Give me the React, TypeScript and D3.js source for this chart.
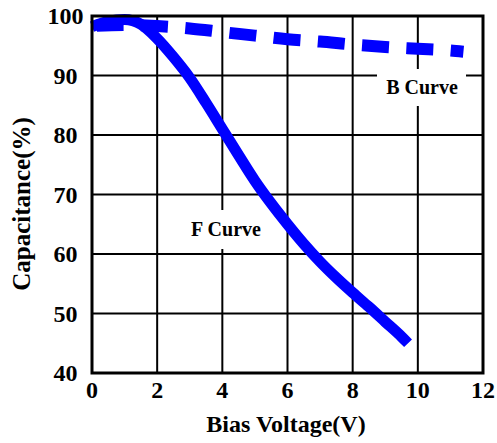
import { useEffect, useRef } from 'react';
import * as d3 from 'd3';

// Bias voltage (V) vs capacitance (%)
const fVoltage = [0, 0.5, 1, 1.5, 2, 2.5, 3, 3.5, 4, 4.5, 5, 5.5, 6, 6.5, 7, 7.5, 8, 8.5, 9, 9.5, 9.7];
const fCapacitance = [98.2, 99.1, 99.4, 98.6, 96.2, 93.1, 89.6, 85.4, 81.0, 76.6, 72.3, 68.5, 65.0, 61.7, 58.7, 56.0, 53.5, 51.1, 48.6, 46.1, 45.0];

const bVoltage = [0, 1, 2, 3, 4, 5, 6, 7, 8, 9, 10, 11, 11.4];
const bCapacitance = [98.3, 98.5, 98.3, 97.9, 97.3, 96.7, 96.1, 95.7, 95.2, 94.8, 94.5, 94.2, 94.0];

const xTicks = [0, 2, 4, 6, 8, 10, 12];
const yTicks = [40, 50, 60, 70, 80, 90, 100];

const W = 497;
const H = 443;
const FONT = 'Liberation Serif, Times New Roman, DejaVu Serif, serif';
const BLUE = '#0000ff';

export default function App() {
  const ref = useRef<SVGSVGElement>(null);

  useEffect(() => {
    if (!ref.current) return;
    const svg = d3.select(ref.current);
    svg.selectAll('*').remove();

    const margin = { top: 16, right: 14, bottom: 70, left: 92 };
    const x = d3.scaleLinear().domain([0, 12]).range([margin.left, W - margin.right]);
    const y = d3.scaleLinear().domain([40, 100]).range([H - margin.bottom, margin.top]);

    const g = svg.append('g');

    // grid
    g.selectAll('line.vgrid')
      .data(xTicks)
      .join('line')
      .attr('x1', d => x(d))
      .attr('x2', d => x(d))
      .attr('y1', y(40))
      .attr('y2', y(100))
      .attr('stroke', '#000')
      .attr('stroke-width', 2);
    g.selectAll('line.hgrid')
      .data(yTicks)
      .join('line')
      .attr('x1', x(0))
      .attr('x2', x(12))
      .attr('y1', d => y(d))
      .attr('y2', d => y(d))
      .attr('stroke', '#000')
      .attr('stroke-width', 2);

    // white boxes behind curve labels
    g.append('rect').attr('x', 377).attr('y', 69).attr('width', 89).attr('height', 37).attr('fill', '#fff');
    g.append('rect').attr('x', 184).attr('y', 210).attr('width', 86).attr('height', 39).attr('fill', '#fff');

    const line = d3
      .line<[number, number]>()
      .x(d => x(d[0]))
      .y(d => y(d[1]))
      .curve(d3.curveMonotoneX);

    const bData = bVoltage.map((v, i) => [v, bCapacitance[i]] as [number, number]);
    const fData = fVoltage.map((v, i) => [v, fCapacitance[i]] as [number, number]);

    g.append('path')
      .attr('d', line(bData))
      .attr('fill', 'none')
      .attr('stroke', BLUE)
      .attr('stroke-width', 12)
      .attr('stroke-dasharray', '27,17.4')
      .attr('stroke-dashoffset', -4.6);

    g.append('path')
      .attr('d', line(fData))
      .attr('fill', 'none')
      .attr('stroke', BLUE)
      .attr('stroke-width', 11)
      .attr('stroke-linejoin', 'round');

    // frame
    g.append('rect')
      .attr('x', x(0))
      .attr('y', y(100))
      .attr('width', x(12) - x(0))
      .attr('height', y(40) - y(100))
      .attr('fill', 'none')
      .attr('stroke', '#000')
      .attr('stroke-width', 3);

    const txt = g.append('g')
      .style('font-family', FONT)
      .style('font-weight', 'bold')
      .attr('fill', '#000');

    txt.selectAll('text.ytick')
      .data(yTicks)
      .join('text')
      .attr('x', 65.5)
      .attr('y', d => y(d))
      .attr('dy', '0.35em')
      .attr('text-anchor', 'middle')
      .style('font-size', '24px')
      .text(d => d);

    txt.selectAll('text.xtick')
      .data(xTicks)
      .join('text')
      .attr('x', d => x(d))
      .attr('y', 398)
      .attr('text-anchor', 'middle')
      .style('font-size', '24px')
      .text(d => d);

    txt.append('text')
      .attr('x', 286)
      .attr('y', 432)
      .attr('text-anchor', 'middle')
      .style('font-size', '24px')
      .text('Bias Voltage(V)');

    txt.append('text')
      .attr('transform', 'translate(30,204) rotate(-90)')
      .attr('text-anchor', 'middle')
      .style('font-size', '25px')
      .text('Capacitance(%)');

    txt.append('text')
      .attr('x', 422)
      .attr('y', 94)
      .attr('text-anchor', 'middle')
      .style('font-size', '20px')
      .text('B Curve');

    txt.append('text')
      .attr('x', 226)
      .attr('y', 236)
      .attr('text-anchor', 'middle')
      .style('font-size', '20px')
      .text('F Curve');
  }, []);

  return (
    <svg
      ref={ref}
      width={W}
      height={H}
      style={{ position: 'absolute', left: 0, top: 0, background: '#fff' }}
    />
  );
}
